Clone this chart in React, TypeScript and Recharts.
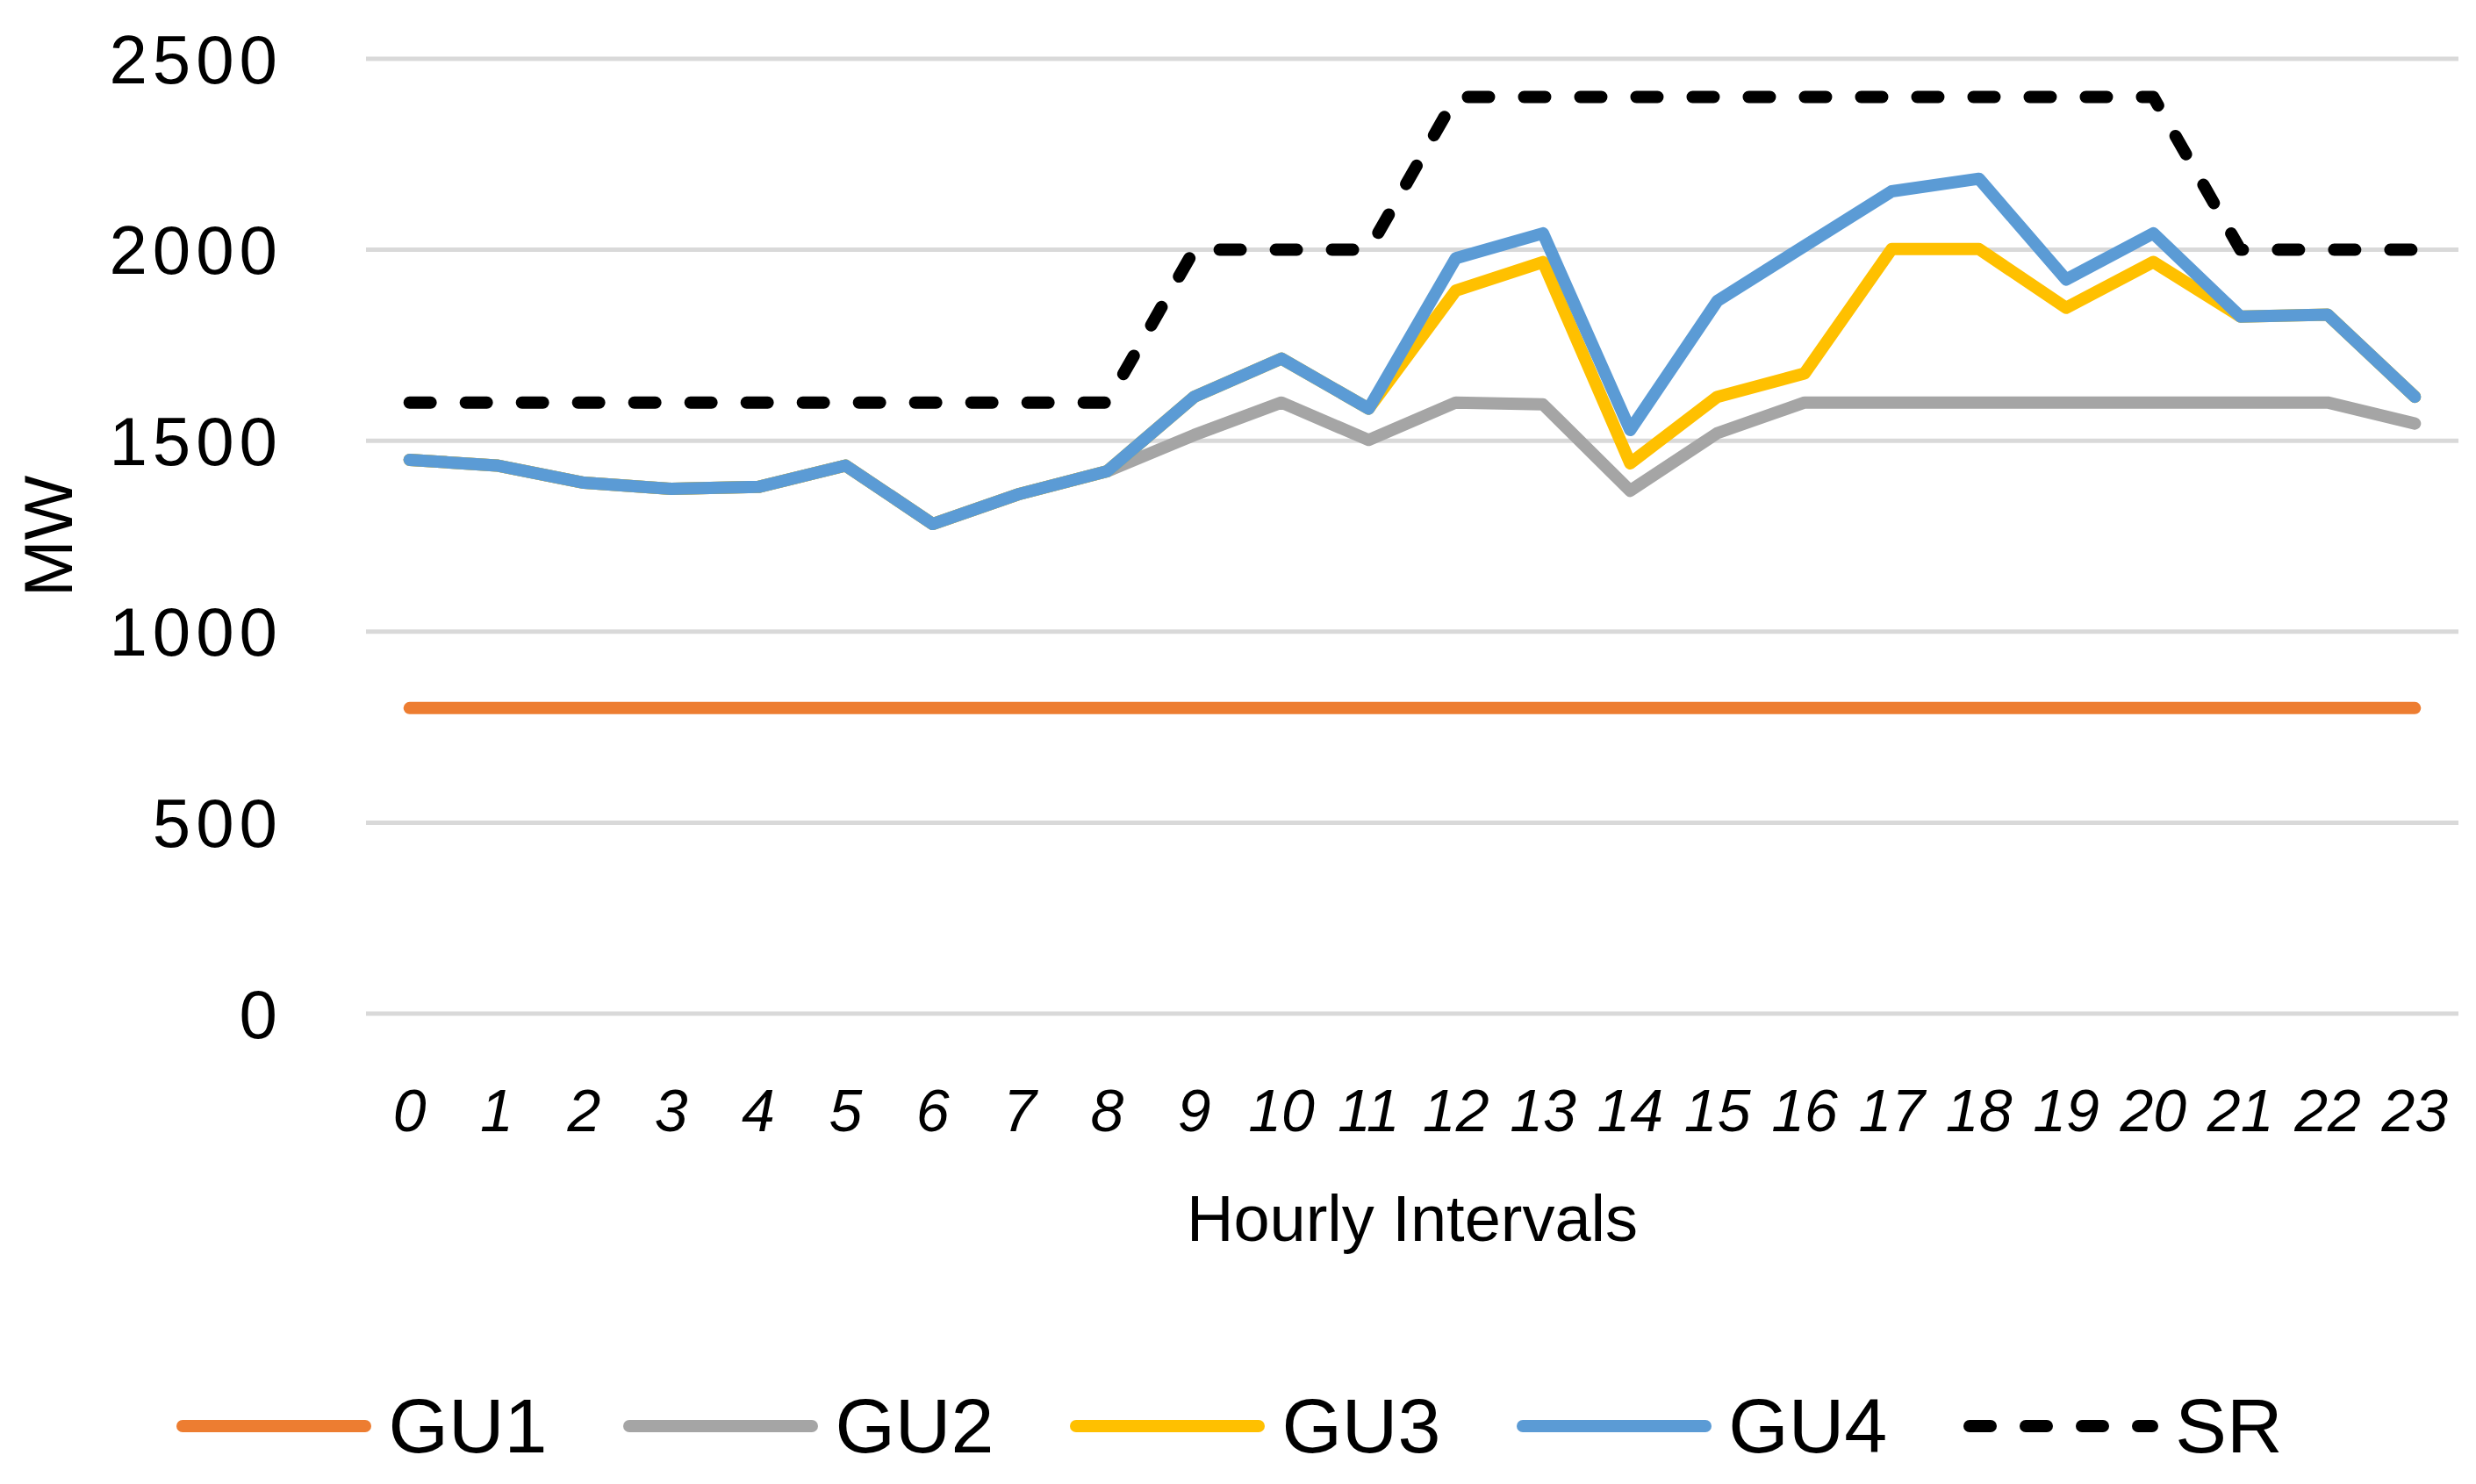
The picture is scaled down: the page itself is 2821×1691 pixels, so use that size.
import { LineChart, Line, XAxis, YAxis, CartesianGrid, Legend } from 'recharts'

const hours = ['0', '1', '2', '3', '4', '5', '6', '7', '8', '9', '10', '11', '12', '13', '14', '15', '16', '17', '18', '19', '20', '21', '22', '23']
const gu1 = [800, 800, 800, 800, 800, 800, 800, 800, 800, 800, 800, 800, 800, 800, 800, 800, 800, 800, 800, 800, 800, 800, 800, 800]
const gu2 = [1450, 1435, 1390, 1374, 1379, 1435, 1282, 1361, 1420, 1515, 1600, 1502, 1600, 1595, 1369, 1520, 1600, 1600, 1600, 1600, 1600, 1600, 1600, 1545]
const gu3 = [1450, 1435, 1390, 1374, 1379, 1435, 1282, 1361, 1420, 1615, 1715, 1584, 1893, 1968, 1441, 1615, 1676, 2002, 2002, 1848, 1968, 1825, 1830, 1615]
const gu4 = [1450, 1435, 1390, 1374, 1379, 1435, 1282, 1361, 1420, 1615, 1715, 1584, 1978, 2043, 1528, 1866, 2010, 2153, 2186, 1922, 2043, 1825, 1830, 1615]
const sr = [1600, 1600, 1600, 1600, 1600, 1600, 1600, 1600, 1600, 2000, 2000, 2000, 2400, 2400, 2400, 2400, 2400, 2400, 2400, 2400, 2400, 2000, 2000, 2000]
const yTicks = [0, 500, 1000, 1500, 2000, 2500]

const series = [
  { key: 'GU1', color: '#ED7D31', dash: undefined as string | undefined },
  { key: 'GU2', color: '#A5A5A5', dash: undefined },
  { key: 'GU3', color: '#FFC000', dash: undefined },
  { key: 'GU4', color: '#5B9BD5', dash: undefined },
  { key: 'SR', color: '#000000', dash: '24 40' },
]

const data = hours.map((h, i) => ({
  hour: h,
  GU1: gu1[i],
  GU2: gu2[i],
  GU3: gu3[i],
  GU4: gu4[i],
  SR: sr[i],
}))

const FONT = '"Liberation Sans", Arial, sans-serif'

function LegendContent() {
  return (
    <div style={{ height: 90, display: 'flex', alignItems: 'center', justifyContent: 'center', fontFamily: FONT, fontSize: 88, color: '#000' }}>
      {series.map((s, i) => (
        <div key={s.key} style={{ display: 'flex', alignItems: 'center', marginRight: i < series.length - 1 ? 86 : 0 }}>
          <svg width={224} height={22} style={{ display: 'block' }}>
            <line
              x1={8}
              y1={11}
              x2={216}
              y2={11}
              stroke={s.color}
              strokeWidth={14}
              strokeLinecap="round"
              strokeDasharray={s.dash}
            />
          </svg>
          <span style={{ marginLeft: 18, lineHeight: 1 }}>{s.key}</span>
        </div>
      ))}
    </div>
  )
}

export default function App() {
  return (
    <div>
      <style>{'body{margin:0}'}</style>
      <LineChart width={2821} height={1691} data={data} margin={{ top: 67, right: 20, left: 0, bottom: 21 }}>
        <CartesianGrid vertical={false} stroke="#D9D9D9" strokeWidth={5} />
        <XAxis
          dataKey="hour"
          scale="band"
          height={425}
          axisLine={false}
          tickLine={false}
          tickSize={0}
          tickMargin={86}
          interval={0}
          tick={{ fill: '#000', fontSize: 68, fontStyle: 'italic', fontFamily: FONT }}
          label={{ value: 'Hourly Intervals', position: 'insideTop', offset: 206, fill: '#000', fontSize: 74, fontFamily: FONT }}
        />
        <YAxis
          width={417}
          domain={[0, 2500]}
          ticks={yTicks}
          axisLine={false}
          tickLine={false}
          tickSize={0}
          tickMargin={95}
          tick={{ fill: '#000', fontSize: 78, fontFamily: FONT, letterSpacing: 6 }}
          label={({ viewBox }: any) => (
            <text
              x={viewBox.x + 54}
              y={viewBox.y + viewBox.height / 2}
              transform={`rotate(-90, ${viewBox.x + 54}, ${viewBox.y + viewBox.height / 2})`}
              textAnchor="middle"
              dy="0.36em"
              fontSize={78}
              fontFamily={FONT}
              fill="#000"
            >
              MW
            </text>
          )}
        />
        <Legend verticalAlign="bottom" content={LegendContent} />
        {series.map((s) => (
          <Line
            key={s.key}
            type="linear"
            dataKey={s.key}
            stroke={s.color}
            strokeWidth={14}
            strokeDasharray={s.dash}
            strokeLinecap="round"
            strokeLinejoin="round"
            dot={false}
            activeDot={false}
            isAnimationActive={false}
          />
        ))}
      </LineChart>
    </div>
  )
}
